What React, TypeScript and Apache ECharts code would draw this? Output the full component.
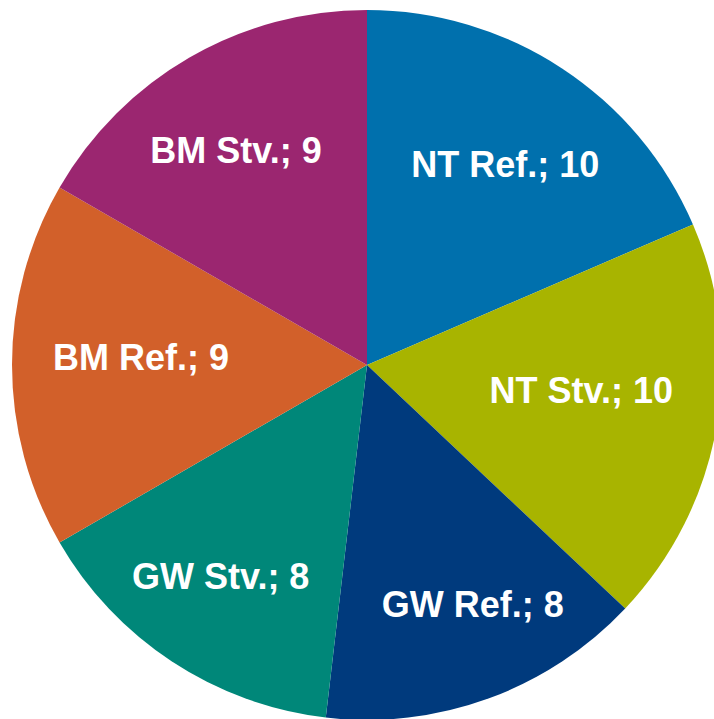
import React, { useEffect, useRef } from "react";
import * as echarts from "echarts";

const categories = ["NT Ref.", "NT Stv.", "GW Ref.", "GW Stv.", "BM Ref.", "BM Stv."];
const values = [10, 10, 8, 8, 9, 9];
const colors = ["#0070AD", "#A8B400", "#003A7D", "#008779", "#D2602A", "#9B2670"];
// label nudges as [top, right, bottom, left] padding and vertical offsets
const labelPads = [
  [0, 0, 0, 4],
  [0, 60, 0, 0],
  [0, 0, 0, 42],
  [0, 20, 0, 0],
  [0, 0, 0, 44],
  [0, 14, 0, 0],
];
const labelDy = [7, -18, 6, 4, -8, 0];

export default function App() {
  const ref = useRef<HTMLDivElement>(null);
  useEffect(() => {
    document.body.style.margin = "0";
    const chart = echarts.init(ref.current!, undefined, { renderer: "svg" });
    const data = categories.map((c, i) => ({ name: c, value: values[i], itemStyle: { color: colors[i] } }));
    chart.setOption({
      animation: false,
      backgroundColor: "#ffffff",
      series: [
        {
          type: "pie",
          center: [367, 365],
          radius: [0, 355],
          startAngle: 90,
          clockwise: true,
          silent: true,
          label: { show: false },
          labelLine: { show: false },
          data,
        },
        {
          type: "pie",
          center: [367, 365],
          radius: [135, 355],
          startAngle: 90,
          clockwise: true,
          silent: true,
          itemStyle: { color: "transparent", borderWidth: 0 },
          label: {
            show: true,
            position: "inside",
            color: "#ffffff",
            fontFamily: "Liberation Sans, Arial, sans-serif",
            fontWeight: "bold",
            fontSize: 36,
            formatter: (p: any) => `${p.name}; ${p.value}`,
          },
          labelLine: { show: false },
          data: categories.map((c, i) => ({
            name: c,
            value: values[i],
            itemStyle: { color: "transparent" },
            label: { padding: labelPads[i], offset: [0, labelDy[i]] },
          })),
        },
      ],
    });
    return () => chart.dispose();
  }, []);
  return <div ref={ref} style={{ width: 714, height: 719 }} />;
}
